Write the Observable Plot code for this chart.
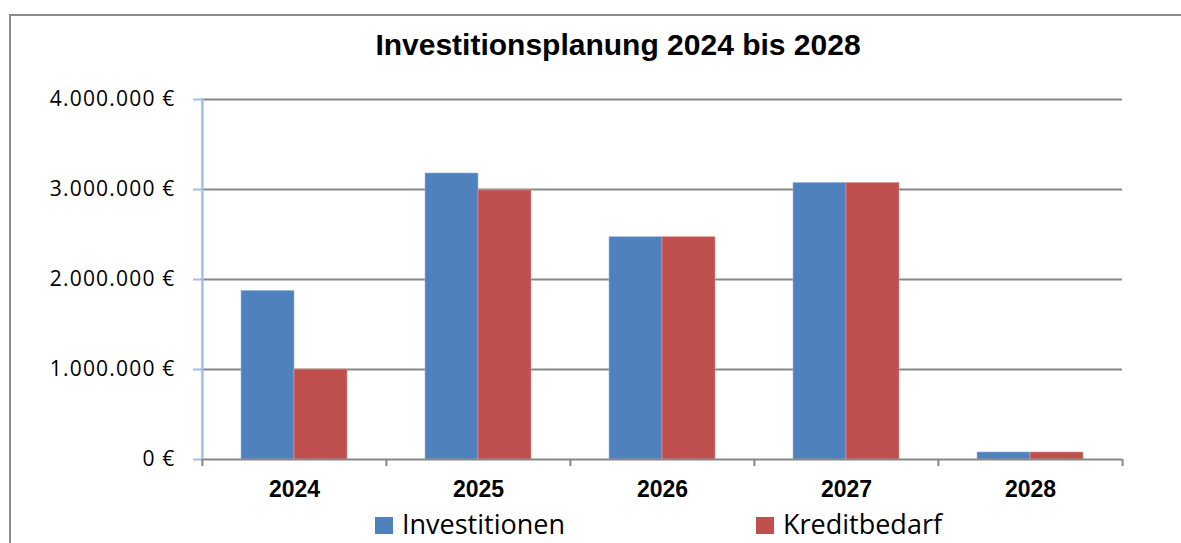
<!DOCTYPE html>
<html>
<head>
<meta charset="utf-8">
<script src="https://cdn.jsdelivr.net/npm/d3@7"></script>
<script src="https://cdn.jsdelivr.net/npm/@observablehq/plot@0.6"></script>
<style>
  html, body { margin: 0; padding: 0; background: #fff; }
  body { width: 1181px; height: 543px; overflow: hidden; position: relative; }
  #frame { position: absolute; left: 9px; top: 14px; width: 1300px; height: 700px; border: 2px solid #8c8c8c; box-sizing: border-box; }
  #title { position: absolute; left: 0; width: 1236px; top: 30px; text-align: center; font: bold 30px "Liberation Sans", Arial, sans-serif; line-height: 30px; color: #000; }
  #chart { position: absolute; left: 0; top: 80px; }
  #legend { position: absolute; top: 514px; left: 0; width: 1181px; height: 20px; font: 27px "Open Sans", sans-serif; line-height: 20px; color: #000; }
  .item { position: absolute; top: 0; white-space: nowrap; }
  .sw { position: absolute; width: 18px; height: 17px; top: 3px; }
</style>
</head>
<body>
<div id="frame"></div>
<div id="title">Investitionsplanung 2024 bis 2028</div>
<div id="chart"></div>
<div id="legend"></div>
<script>
const years = ["2024", "2025", "2026", "2027", "2028"];
const investitionen = [1873000, 3178000, 2470000, 3073000, 78000];
const kreditbedarf = [1000000, 2990000, 2470000, 3073000, 78000];
const seriesNames = ["Investitionen", "Kreditbedarf"];
const seriesColors = ["#4F81BD", "#C0504D"];
const yTicks = [0, 1000000, 2000000, 3000000, 4000000];

const de = d3.formatLocale({decimal: ",", thousands: ".", grouping: [3], currency: ["", " €"]});
const fmt = de.format("$,.0f");

const invData = years.map((y, i) => ({year: y, value: investitionen[i]}));
const kreData = years.map((y, i) => ({year: y, value: kreditbedarf[i]}));

const W = 1181, mL = 201, mR = 59;
const bw = (W - mL - mR) / years.length;

const plot = Plot.plot({
  width: W,
  height: 424,
  marginLeft: mL,
  marginRight: mR,
  marginTop: 19,
  marginBottom: 45,
  x: {domain: years, padding: 0, axis: null},
  y: {domain: [0, 4000000], axis: null},
  style: {background: "transparent", overflow: "visible"},
  marks: [
    Plot.ruleY(yTicks.slice(1), {stroke: "#878787", strokeWidth: 2}),
    Plot.barY(invData, {x: "year", y: "value", fill: seriesColors[0], insetLeft: 39, insetRight: 92, stroke: "#9fb8dc", strokeWidth: 0.6}),
    Plot.barY(kreData, {x: "year", y: "value", fill: seriesColors[1], insetLeft: 92, insetRight: 39, stroke: "#dc9c9a", strokeWidth: 0.6}),
    Plot.ruleY([0], {stroke: "#878787", strokeWidth: 2}),
    Plot.ruleX(years, {x: d => d, dx: -bw / 2, y1: 0, y2: -78000, stroke: "#878787", strokeWidth: 2}),
    Plot.ruleX([years[years.length - 1]], {x: d => d, dx: bw / 2, y1: 0, y2: -78000, stroke: "#878787", strokeWidth: 2}),
    Plot.ruleX([years[0]], {x: d => d, dx: -bw / 2, y1: 0, y2: 4000000, stroke: "#a3bfe8", strokeWidth: 2.5}),
    Plot.axisY({ticks: yTicks, tickFormat: fmt, tickSize: 8, tickPadding: 18, stroke: "#a3bfe8", strokeWidth: 2, fill: "#000",
      fontSize: 21, fontFamily: "Open Sans, sans-serif", label: null}),
    Plot.axisX({tickSize: 0, tickPadding: 21, fill: "#000", fontSize: 23, fontWeight: "bold",
      fontFamily: "Liberation Sans, Arial, sans-serif", label: null})
  ]
});
plot.querySelectorAll("text").forEach(t => {
  if (t.closest("g[aria-label='y-axis tick label']")) t.style.letterSpacing = "1.2px";
});
document.getElementById("chart").appendChild(plot);

const legend = document.getElementById("legend");
const pos = [[375, 402], [756, 783]];
seriesNames.forEach((name, i) => {
  const sw = document.createElement("div");
  sw.className = "sw";
  sw.style.left = pos[i][0] + "px";
  sw.style.background = seriesColors[i];
  legend.appendChild(sw);
  const t = document.createElement("div");
  t.className = "item";
  t.style.left = pos[i][1] + "px";
  t.textContent = name;
  legend.appendChild(t);
});
</script>
</body>
</html>
